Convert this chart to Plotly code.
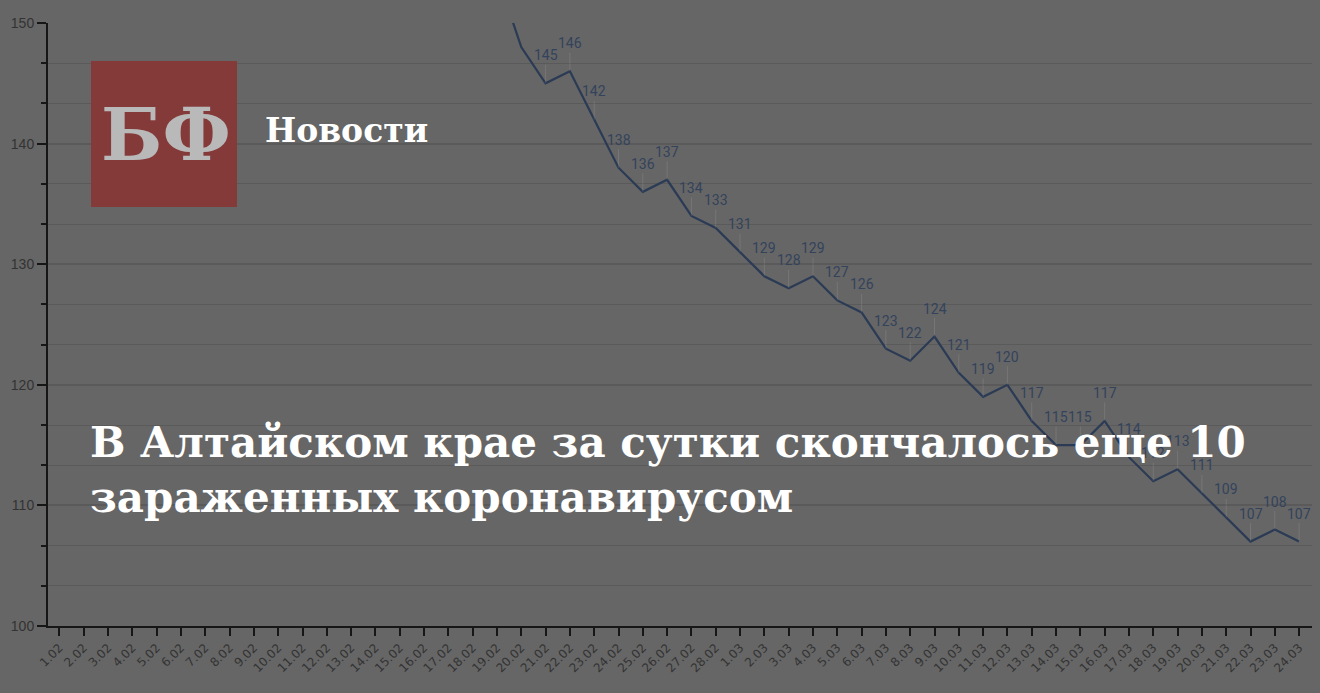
import plotly.graph_objects as go

# ---- data -------------------------------------------------------------
DATES = (
    [f"{d}.02" for d in range(1, 29)]
    + [f"{d}.03" for d in range(1, 25)]
)
# 1.02 - 19.02 are above the visible range (clipped at 150)
VALUES = [
    219, 216, 213, 210, 206, 203, 199, 196, 192, 189,
    185, 181, 177, 173, 169, 165, 161, 157, 154,
    148, 145, 146, 142, 138, 136, 137, 134, 133,
    131, 129, 128, 129, 127, 126, 123, 122, 124, 121,
    119, 120, 117, 115, 115, 117, 114, 112, 113, 111,
    109, 107, 108, 107,
]
Y_MIN, Y_MAX = 100, 150

HEADLINE_1 = "В Алтайском крае за сутки скончалось еще 10"
HEADLINE_2 = "зараженных коронавирусом"
BRAND      = "БФ"
SECTION    = "Новости"

# ---- style ------------------------------------------------------------
BG        = "#666666"
GRID      = "#5a5a5a"
AXIS      = "#161616"
TICK_TXT  = "#333333"
LINE      = "#2b3b55"
LABEL     = "#33435c"
SERIF     = "DejaVu Serif, Liberation Serif, serif"

L, R, T, B = 48, 8, 23, 67
W, H = 1320, 693
PW, PH = W - L - R, H - T - B


def px_x(x):
    return (x - L) / PW


def px_y(y):
    return (H - B - y) / PH


fig = go.Figure(go.Scatter(
    x=DATES,
    y=VALUES,
    mode="lines",
    line=dict(color=LINE, width=2.2),
    hoverinfo="skip",
))

# value labels with faint leader lines (x given as category index)
for i, v in enumerate(VALUES):
    if v > Y_MAX - 3:
        continue
    fig.add_annotation(
        x=i, y=v, text=str(v),
        showarrow=True, arrowhead=0, arrowwidth=1, standoff=0,
        arrowcolor="rgba(255,255,255,0.10)",
        ax=0, ay=-28,
        font=dict(family="Roboto, sans-serif", size=14, color=LABEL),
    )

# brand block
fig.add_shape(
    type="rect", xref="paper", yref="paper",
    x0=px_x(91), x1=px_x(237), y0=px_y(207), y1=px_y(61),
    fillcolor="#853a3a", line=dict(width=0), layer="above",
)
fig.add_annotation(
    xref="paper", yref="paper", x=px_x(166), y=px_y(134),
    xanchor="center", yanchor="middle",
    text=f"<b>{BRAND}</b>", showarrow=False,
    font=dict(family=SERIF, size=72, color="#b9b9b9"),
)
fig.add_annotation(
    xref="paper", yref="paper", x=px_x(263), y=px_y(130),
    xanchor="left", yanchor="middle",
    text=f"<b>{SECTION}</b>", showarrow=False,
    font=dict(family=SERIF, size=33, color="#ffffff"),
)

# headline
for i, line in enumerate([HEADLINE_1, HEADLINE_2]):
    fig.add_annotation(
        xref="paper", yref="paper", x=px_x(88), y=px_y(442 + 55 * i),
        xanchor="left", yanchor="middle",
        text=f"<b>{line}</b>", showarrow=False,
        font=dict(family=SERIF, size=42, color="#ffffff"),
    )

fig.update_layout(
    width=W, height=H,
    margin=dict(l=L, r=R, t=T, b=B),
    paper_bgcolor=BG,
    plot_bgcolor=BG,
    showlegend=False,
    xaxis=dict(
        type="category",
        range=[-0.47, len(DATES) - 0.47],
        showgrid=False,
        showline=True, linecolor=AXIS, linewidth=2,
        ticks="outside", ticklen=8, tickcolor=AXIS, tickwidth=2,
        tickangle=-45,
        tickfont=dict(family="DejaVu Sans, sans-serif", size=12, color=TICK_TXT),
    ),
    yaxis=dict(
        range=[Y_MIN, Y_MAX],
        tick0=100, dtick=10,
        showgrid=True, gridcolor=GRID, gridwidth=2,
        showline=True, linecolor=AXIS, linewidth=2,
        ticks="outside", ticklen=9, tickcolor=AXIS, tickwidth=2,
        tickfont=dict(family="Liberation Sans, Arial, sans-serif", size=14, color=TICK_TXT),
        zeroline=False,
        minor=dict(
            tick0=100, dtick=10 / 3, showgrid=True, gridcolor=GRID, gridwidth=1,
            ticks="outside", ticklen=5, tickcolor=AXIS, tickwidth=1.5,
        ),
    ),
)

fig.write_html(
    "out.html",
    config={"displayModeBar": False},
    post_script="document.body.style.margin='0';document.body.style.background='#666666';",
)
